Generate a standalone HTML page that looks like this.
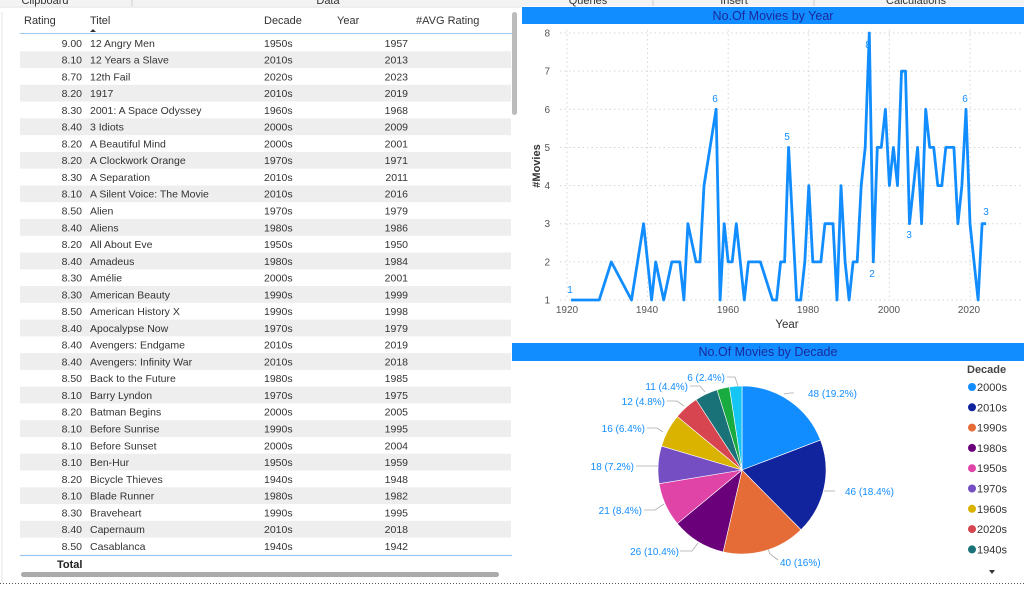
<!DOCTYPE html>
<html><head><meta charset="utf-8"><style>
html,body{margin:0;padding:0;background:#fff;width:1024px;height:590px;overflow:hidden}
svg{display:block;font-family:"Liberation Sans",sans-serif}
</style></head><body>
<svg id="s" width="1024" height="590" viewBox="0 0 1024 590" xmlns="http://www.w3.org/2000/svg">
<rect width="1024" height="590" fill="#fff"/>
<rect x="0" y="0" width="1024" height="6" fill="#f3f3f3"/>
<g font-size="11" fill="#333" text-anchor="middle">
<text x="45" y="4">Clipboard</text><text x="328" y="4">Data</text>
<text x="588" y="4">Queries</text><text x="734" y="4">Insert</text><text x="916" y="4">Calculations</text>
</g>
<g stroke="#ccc"><line x1="132" y1="0" x2="132" y2="6"/><line x1="653" y1="0" x2="653" y2="6"/><line x1="814" y1="0" x2="814" y2="6"/></g>
<line x1="0" y1="7" x2="520" y2="7" stroke="#ddd"/>
<g id="rows"></g>
<g font-size="11" fill="#333">
<text x="24" y="24">Rating</text><text x="90" y="24">Titel</text><text x="264" y="24">Decade</text><text x="337" y="24">Year</text><text x="416" y="24">#AVG Rating</text>
</g>
<path d="M90 32 L93 29 L96 32 Z" fill="#333"/>
<line x1="20" y1="33.5" x2="512" y2="33.5" stroke="#9cc8f0"/>
<g id="tt" font-size="10.5" fill="#333"></g>
<line x1="20" y1="555.5" x2="512" y2="555.5" stroke="#9cc8f0" stroke-width="1.2"/>
<text x="57" y="568" font-size="11" font-weight="bold" fill="#222">Total</text>
<rect x="21" y="572" width="478" height="5" rx="2.5" fill="#aaa"/>
<rect x="512" y="12" width="5" height="103" rx="2.5" fill="#bbb"/>
<line x1="2" y1="12" x2="2" y2="583" stroke="#e6e6e6"/>
<rect x="522" y="7" width="502" height="17" fill="#118DFF"/>
<text x="773" y="20" font-size="12.5" fill="#1a2a9a" text-anchor="middle">No.Of Movies by Year</text>
<g id="grid" stroke="#d6d6d6" stroke-dasharray="1.5,3"></g>
<g id="yt" font-size="10" fill="#555" text-anchor="end"></g>
<g font-size="10" fill="#555" text-anchor="middle">
<text x="567" y="313">1920</text><text x="647" y="313">1940</text><text x="728" y="313">1960</text><text x="808" y="313">1980</text><text x="889" y="313">2000</text><text x="969" y="313">2020</text>
</g>
<text x="787" y="328" font-size="11.5" fill="#333" text-anchor="middle">Year</text>
<text transform="translate(540,166) rotate(-90)" font-size="11" fill="#333" text-anchor="middle" font-weight="bold">#Movies</text>
<polyline id="ln" fill="none" stroke="#118DFF" stroke-width="2.8" stroke-linejoin="round"/>
<g font-size="10" fill="#118DFF" text-anchor="middle">
<text x="570" y="293">1</text><text x="715" y="102">6</text><text x="787" y="140">5</text><text x="868" y="48">8</text><text x="872" y="277">2</text><text x="909" y="238">3</text><text x="965" y="102">6</text><text x="986" y="215">3</text>
</g>
<rect x="512" y="343" width="512" height="18" fill="#118DFF"/>
<text x="768" y="356" font-size="12.5" fill="#1a2a9a" text-anchor="middle">No.Of Movies by Decade</text>
<g id="pie"></g>
<g stroke="#aaa" fill="none" stroke-width="0.8">
<path d="M794 393 H790 L784 394"/><path d="M824 491 H835"/><path d="M778 560 L770 554 L768 549"/>
<path d="M680 551 H692 L698 543"/><path d="M644 510 H655 L664 504"/><path d="M636 466 H658"/>
<path d="M647 428 H657 L663 432"/><path d="M667 401 H677 L684 406"/><path d="M690 386 H700 L705 392"/><path d="M727 377 H735 L738 386"/>
</g>
<g font-size="10" fill="#118DFF">
<text x="808" y="397">48 (19.2%)</text><text x="845" y="495">46 (18.4%)</text><text x="780" y="566">40 (16%)</text>
<g text-anchor="end"><text x="679" y="555">26 (10.4%)</text><text x="642" y="514">21 (8.4%)</text><text x="634" y="470">18 (7.2%)</text><text x="645" y="432">16 (6.4%)</text><text x="665" y="405">12 (4.8%)</text><text x="688" y="390">11 (4.4%)</text><text x="725" y="381">6 (2.4%)</text></g>
</g>
<text x="967" y="373" font-size="11" font-weight="bold" fill="#444">Decade</text>
<g id="leg" font-size="11" fill="#333"></g>
<path d="M989 570 L995 570 L992 574 Z" fill="#333"/>
<line x1="0" y1="583.5" x2="1024" y2="583.5" stroke="#555" stroke-dasharray="1,2"/>
</svg>
<script>
var NS="http://www.w3.org/2000/svg";
function el(p,t,a,txt){var e=document.createElementNS(NS,t);for(var k in a)e.setAttribute(k,a[k]);if(txt!=null)e.textContent=txt;document.getElementById(p).appendChild(e);return e;}
</script>
<script>
var data=[["9.00","12 Angry Men","1950s","1957"],["8.10","12 Years a Slave","2010s","2013"],["8.70","12th Fail","2020s","2023"],["8.20","1917","2010s","2019"],["8.30","2001: A Space Odyssey","1960s","1968"],["8.40","3 Idiots","2000s","2009"],["8.20","A Beautiful Mind","2000s","2001"],["8.20","A Clockwork Orange","1970s","1971"],["8.30","A Separation","2010s","2011"],["8.10","A Silent Voice: The Movie","2010s","2016"],["8.50","Alien","1970s","1979"],["8.40","Aliens","1980s","1986"],["8.20","All About Eve","1950s","1950"],["8.40","Amadeus","1980s","1984"],["8.30","Amélie","2000s","2001"],["8.30","American Beauty","1990s","1999"],["8.50","American History X","1990s","1998"],["8.40","Apocalypse Now","1970s","1979"],["8.40","Avengers: Endgame","2010s","2019"],["8.40","Avengers: Infinity War","2010s","2018"],["8.50","Back to the Future","1980s","1985"],["8.10","Barry Lyndon","1970s","1975"],["8.20","Batman Begins","2000s","2005"],["8.10","Before Sunrise","1990s","1995"],["8.10","Before Sunset","2000s","2004"],["8.10","Ben-Hur","1950s","1959"],["8.20","Bicycle Thieves","1940s","1948"],["8.10","Blade Runner","1980s","1982"],["8.30","Braveheart","1990s","1995"],["8.40","Capernaum","2010s","2018"],["8.50","Casablanca","1940s","1942"]];
var rh=16.77;
data.forEach(function(d,i){var top=34.5+i*rh;
 if(i%2==1)el("rows","rect",{x:20,y:top,width:491,height:rh,fill:"#eeeeee"});
 var y=top+12.3;
 el("tt","text",{x:82,y:y,"text-anchor":"end"},d[0]);el("tt","text",{x:90,y:y},d[1]);
 el("tt","text",{x:264,y:y},d[2]);el("tt","text",{x:408,y:y,"text-anchor":"end"},d[3]);});
function X(yr){return 567+(yr-1920)*4.03}function Y(v){return 300-(v-1)*38.14}
for(var v=1;v<=8;v++){el("grid","line",{x1:560,y1:Y(v),x2:1022,y2:Y(v)});el("yt","text",{x:550,y:Y(v)+3.5},v);}
[1920,1940,1960,1980,2000,2020].forEach(function(y){el("grid","line",{x1:X(y),y1:30,x2:X(y),y2:300});});
var pts=[[1921,1],[1928,1],[1931,2],[1936,1],[1939,3],[1941,1],[1942,2],[1944,1],[1946,2],[1948,2],[1949,1],[1950,3],[1952,2],[1953,2],[1954,4],[1957,6],[1958,1],[1959,3],[1960,2],[1961,2],[1962,3],[1964,1],[1965,2],[1968,2],[1971,1],[1972,1],[1973,2],[1974,2],[1975,5],[1977,1],[1978,1],[1979,2],[1980,4],[1981,2],[1983,2],[1984,3],[1986,3],[1987,1],[1988,4],[1989,2],[1990,1],[1991,2],[1992,2],[1993,4],[1994,5],[1995,8],[1996,2],[1997,5],[1998,5],[1999,6],[2000,4],[2001,5],[2002,4],[2003,7],[2004,7],[2005,3],[2006,4],[2007,5],[2008,3],[2009,6],[2010,5],[2011,5],[2012,4],[2013,4],[2014,5],[2016,5],[2017,3],[2018,4],[2019,6],[2020,3],[2022,1],[2023,3],[2024,3]];
document.getElementById("ln").setAttribute("points",pts.map(function(p){return X(p[0]).toFixed(1)+","+Y(p[1]).toFixed(1)}).join(" "));
var sl=[[48,"#118DFF","2000s"],[46,"#12239E","2010s"],[40,"#E66C37","1990s"],[26,"#6B007B","1980s"],[21,"#E044A7","1950s"],[18,"#744EC2","1970s"],[16,"#D9B300","1960s"],[12,"#D64550","2020s"],[11,"#197278","1940s"],[6,"#1AAB40",""],[6,"#15C6F4",""]];
var cx=742,cy=470,r=84,a=-Math.PI/2,tot=250;
sl.forEach(function(s,i){var b=a+s[0]/tot*2*Math.PI;
 var d="M"+cx+","+cy+" L"+(cx+r*Math.cos(a))+","+(cy+r*Math.sin(a))+" A"+r+","+r+" 0 "+((b-a)>Math.PI?1:0)+",1 "+(cx+r*Math.cos(b))+","+(cy+r*Math.sin(b))+" Z";
 el("pie","path",{d:d,fill:s[1],stroke:"#fff","stroke-width":0.6});a=b;
 if(i<9){var y=387+i*20.3;el("leg","circle",{cx:972,cy:y,r:4,fill:s[1]});el("leg","text",{x:977,y:y+4},s[2]);}});
</script>
</body></html>
